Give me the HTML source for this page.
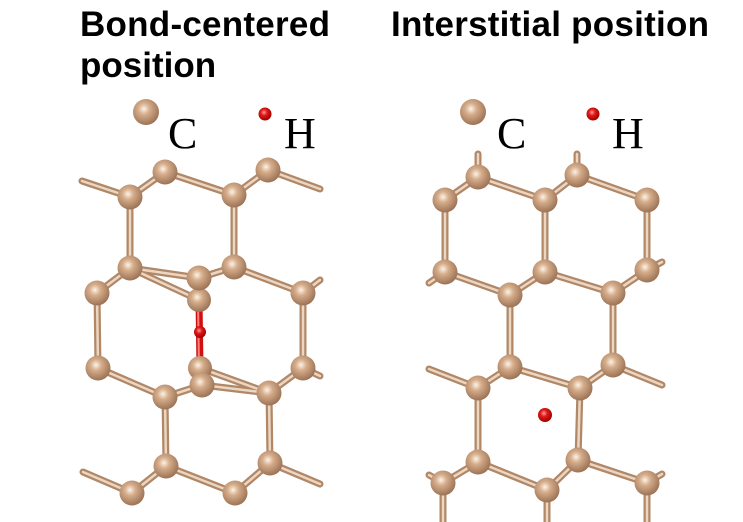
<!DOCTYPE html>
<html><head><meta charset="utf-8"><style>
html,body{margin:0;padding:0;background:#fff;width:743px;height:522px;overflow:hidden}
</style></head><body>
<svg width="743" height="522" viewBox="0 0 743 522" xmlns="http://www.w3.org/2000/svg" xmlns:xlink="http://www.w3.org/1999/xlink">
<defs>
<radialGradient id="gc" cx="0.42" cy="0.38" r="0.62">
<stop offset="0" stop-color="#fdf2e6"/><stop offset="0.35" stop-color="#d6ae8c"/><stop offset="1" stop-color="#9c7355"/>
</radialGradient>
<radialGradient id="gh" cx="0.42" cy="0.38" r="0.62">
<stop offset="0" stop-color="#ff9a9a"/><stop offset="0.4" stop-color="#e01818"/><stop offset="1" stop-color="#a00000"/>
</radialGradient>
<g id="lb">
<line x1="165" y1="172" x2="130" y2="197"/><line x1="165" y1="172" x2="234" y2="195"/>
<line x1="268" y1="170" x2="234" y2="195"/><line x1="268" y1="170" x2="320" y2="189"/>
<line x1="130" y1="197" x2="82" y2="181"/>
<line x1="130" y1="197" x2="130" y2="268"/><line x1="234" y1="195" x2="234" y2="267"/>
<line x1="130" y1="268" x2="97" y2="293"/><line x1="130" y1="268" x2="199" y2="278"/><line x1="130" y1="268" x2="199" y2="300"/>
<line x1="234" y1="267" x2="199" y2="278"/><line x1="234" y1="267" x2="303" y2="293"/>
<line x1="303" y1="293" x2="320" y2="280"/>
<line x1="97" y1="293" x2="98" y2="368"/><line x1="303" y1="293" x2="303" y2="368"/>
<line x1="98" y1="368" x2="165" y2="397"/><line x1="165" y1="397" x2="202" y2="385"/>
<line x1="303" y1="368" x2="269" y2="393"/><line x1="303" y1="368" x2="320" y2="376"/>
<line x1="200" y1="368" x2="269" y2="393"/><line x1="202" y1="385" x2="269" y2="393"/>
<line x1="165" y1="397" x2="166" y2="466"/><line x1="269" y1="393" x2="270" y2="463"/>
<line x1="166" y1="466" x2="132" y2="493"/><line x1="166" y1="466" x2="235" y2="493"/>
<line x1="270" y1="463" x2="235" y2="493"/><line x1="270" y1="463" x2="320" y2="484"/>
<line x1="132" y1="493" x2="83" y2="472"/>
</g>
<g id="rb">
<line x1="478" y1="177" x2="478" y2="154"/><line x1="577" y1="175" x2="577" y2="154"/>
<line x1="478" y1="177" x2="445" y2="200"/><line x1="478" y1="177" x2="545" y2="200"/>
<line x1="577" y1="175" x2="545" y2="200"/><line x1="577" y1="175" x2="647" y2="200"/>
<line x1="445" y1="200" x2="445" y2="272"/><line x1="545" y1="200" x2="545" y2="272"/><line x1="647" y1="200" x2="647" y2="270"/>
<line x1="445" y1="272" x2="510" y2="295"/><line x1="545" y1="272" x2="510" y2="295"/>
<line x1="545" y1="272" x2="613" y2="293"/><line x1="647" y1="270" x2="613" y2="293"/>
<line x1="445" y1="272" x2="429" y2="283"/><line x1="647" y1="270" x2="662" y2="262"/>
<line x1="510" y1="295" x2="510" y2="367"/><line x1="613" y1="293" x2="613" y2="365"/>
<line x1="510" y1="367" x2="478" y2="388"/><line x1="510" y1="367" x2="580" y2="388"/>
<line x1="613" y1="365" x2="580" y2="388"/><line x1="613" y1="365" x2="662" y2="385"/>
<line x1="478" y1="388" x2="429" y2="369"/>
<line x1="478" y1="388" x2="478" y2="462"/><line x1="580" y1="388" x2="578" y2="460"/>
<line x1="478" y1="462" x2="443" y2="483"/><line x1="478" y1="462" x2="547" y2="490"/>
<line x1="578" y1="460" x2="547" y2="490"/><line x1="578" y1="460" x2="647" y2="483"/>
<line x1="443" y1="483" x2="443" y2="522"/><line x1="547" y1="490" x2="547" y2="522"/><line x1="647" y1="483" x2="647" y2="522"/>
<line x1="443" y1="483" x2="429" y2="475"/><line x1="647" y1="483" x2="662" y2="474"/>
</g>
</defs>
<g font-family="'Liberation Sans',sans-serif" font-weight="bold" font-size="35" fill="#000">
<text x="80" y="36" textLength="250">Bond-centered</text>
<text x="80" y="77">position</text>
<text x="391" y="36" textLength="318">Interstitial position</text>
</g>
<g font-family="'Liberation Serif',serif" font-size="44" fill="#000">
<text x="168" y="148">C</text><text x="284" y="148">H</text>
<text x="497" y="148">C</text><text x="612" y="148">H</text>
</g>
<circle cx="146" cy="112" r="13" fill="url(#gc)"/>
<circle cx="265" cy="114" r="6.5" fill="url(#gh)"/>
<circle cx="473" cy="112" r="13" fill="url(#gc)"/>
<circle cx="593" cy="114" r="6.5" fill="url(#gh)"/>

<use href="#lb" xlink:href="#lb" stroke="#b08868" stroke-width="7" stroke-linecap="round"/>
<use href="#lb" xlink:href="#lb" stroke="#ecd6c2" stroke-width="2.5" stroke-linecap="round"/>
<use href="#rb" xlink:href="#rb" stroke="#b08868" stroke-width="7" stroke-linecap="round"/>
<use href="#rb" xlink:href="#rb" stroke="#ecd6c2" stroke-width="2.5" stroke-linecap="round"/>

<line x1="199" y1="300" x2="200" y2="368" stroke="#d01010" stroke-width="7" stroke-linecap="round"/>
<line x1="198" y1="300" x2="199" y2="368" stroke="#ff8080" stroke-width="2"/>

<g fill="url(#gc)">
<circle cx="199" cy="300" r="12"/><circle cx="200" cy="368" r="12"/>
<circle cx="165" cy="172" r="12.5"/><circle cx="268" cy="170" r="12.5"/>
<circle cx="130" cy="197" r="12.5"/><circle cx="234" cy="195" r="12.5"/>
<circle cx="130" cy="268" r="12.5"/><circle cx="234" cy="267" r="12.5"/>
<circle cx="199" cy="278" r="12.5"/>
<circle cx="97" cy="293" r="12.5"/><circle cx="303" cy="293" r="12.5"/>
<circle cx="98" cy="368" r="12.5"/><circle cx="303" cy="368" r="12.5"/>
<circle cx="202" cy="385" r="12.5"/>
<circle cx="165" cy="397" r="12.5"/><circle cx="269" cy="393" r="12.5"/>
<circle cx="166" cy="466" r="12.5"/><circle cx="270" cy="463" r="12.5"/>
<circle cx="132" cy="493" r="12.5"/><circle cx="235" cy="493" r="12.5"/>
</g>
<circle cx="200" cy="332" r="6" fill="url(#gh)"/>

<g fill="url(#gc)">
<circle cx="478" cy="177" r="12.5"/><circle cx="577" cy="175" r="12.5"/>
<circle cx="445" cy="200" r="12.5"/><circle cx="545" cy="200" r="12.5"/><circle cx="647" cy="200" r="12.5"/>
<circle cx="445" cy="272" r="12.5"/><circle cx="545" cy="272" r="12.5"/><circle cx="647" cy="270" r="12.5"/>
<circle cx="510" cy="295" r="12.5"/><circle cx="613" cy="293" r="12.5"/>
<circle cx="510" cy="367" r="12.5"/><circle cx="613" cy="365" r="12.5"/>
<circle cx="478" cy="388" r="12.5"/><circle cx="580" cy="388" r="12.5"/>
<circle cx="478" cy="462" r="12.5"/><circle cx="578" cy="460" r="12.5"/>
<circle cx="443" cy="483" r="12.5"/><circle cx="547" cy="490" r="12.5"/><circle cx="647" cy="483" r="12.5"/>
</g>
<circle cx="545" cy="415" r="7" fill="url(#gh)"/>
</svg>
</body></html>
